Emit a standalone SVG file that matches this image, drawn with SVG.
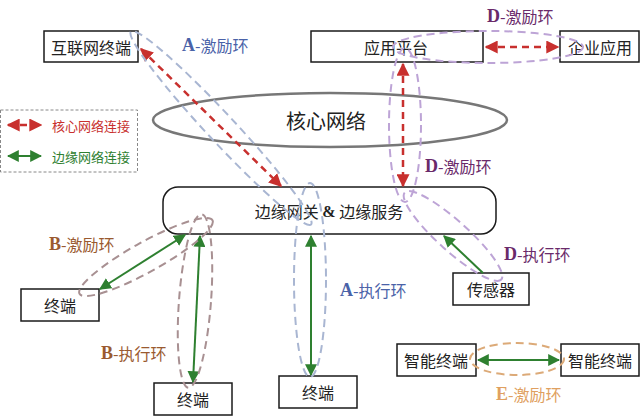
<svg xmlns="http://www.w3.org/2000/svg" width="641" height="416" viewBox="0 0 641 416">
<style>
.box{fill:#fff;stroke:#1a1a1a;stroke-width:1.5}
.t{font-family:"Noto Sans CJK SC","Noto Sans",sans-serif;fill:#222;text-anchor:middle;dominant-baseline:central}
.lab{font-family:"Noto Sans CJK SC",sans-serif;font-size:16px;dominant-baseline:central}
.L{font-family:"Liberation Serif",serif;font-weight:bold;font-size:18px}
.red{fill:none;stroke:#c8302e;stroke-width:2.5;stroke-dasharray:7 5}
.grn{fill:none;stroke:#2e8030;stroke-width:2}
.lpA{fill:none;stroke:#a9b6d2;stroke-width:2;stroke-dasharray:8 5}
.lpD{fill:none;stroke:#bda4d6;stroke-width:2;stroke-dasharray:8 5}
.lpB{fill:none;stroke:#a89092;stroke-width:2;stroke-dasharray:8 5}
.lpE{fill:none;stroke:#dcaa78;stroke-width:2;stroke-dasharray:8 5}
</style>
<defs>
<marker id="ar" viewBox="0 0 10 10" refX="9" refY="5" markerWidth="5.2" markerHeight="5.2" orient="auto-start-reverse" markerUnits="strokeWidth"><path d="M0,0 L10,5 L0,10 Z" fill="#c8302e"/></marker>
<marker id="ag" viewBox="0 0 10 10" refX="9" refY="5" markerWidth="6" markerHeight="6" orient="auto-start-reverse" markerUnits="strokeWidth"><path d="M0,0 L10,5 L0,10 Z" fill="#2e8030"/></marker>
</defs>
<rect width="641" height="416" fill="#fff"/>

<g id="legend">
<rect x="0.5" y="110" width="137" height="62" fill="none" stroke="#888" stroke-width="1" stroke-dasharray="3 2"/>
<line x1="8" y1="125" x2="41" y2="125" class="red" marker-start="url(#ar)" marker-end="url(#ar)"/>
<text x="52" y="125" class="lab" style="font-size:13px;fill:#c8302e">核心网络连接</text>
<line x1="8" y1="156" x2="41" y2="156" class="grn" stroke-width="2.5" marker-start="url(#ag)" marker-end="url(#ag)"/>
<text x="52" y="156" class="lab" style="font-size:13px;fill:#2e8030">边缘网络连接</text>
</g>

<g id="core">
<ellipse cx="330" cy="120" rx="177" ry="27" fill="none" stroke="#777" stroke-width="2.5"/>
<text x="326" y="120" class="t" style="font-size:20px">核心网络</text>
</g>

<g id="internet-terminal"><rect x="44" y="31" width="94" height="31" class="box"/><text x="91" y="47" class="t" style="font-size:16px">互联网终端</text></g>
<g id="app-platform"><rect x="311" y="31" width="172" height="31" class="box"/><text x="396" y="47" class="t" style="font-size:16px">应用平台</text></g>
<g id="enterprise-app"><rect x="560" y="31" width="79" height="31" class="box"/><text x="600" y="47" class="t" style="font-size:16px">企业应用</text></g>
<g id="edge"><rect x="163" y="187" width="333" height="47" rx="15" class="box"/><text x="329" y="211" class="t" style="font-size:16px">边缘网关&#160;<tspan style="font-family:'Liberation Serif',serif;font-weight:bold">&amp;</tspan>&#160;边缘服务</text></g>
<g id="terminal-left"><rect x="21" y="289" width="78" height="32" class="box"/><text x="60" y="305" class="t" style="font-size:16px">终端</text></g>
<g id="terminal-mid"><rect x="154" y="383" width="78" height="32" class="box"/><text x="193" y="399" class="t" style="font-size:16px">终端</text></g>
<g id="terminal-right"><rect x="279" y="376" width="78" height="32" class="box"/><text x="318" y="392" class="t" style="font-size:16px">终端</text></g>
<g id="sensor"><rect x="453" y="273" width="76" height="32" class="box"/><text x="491" y="289" class="t" style="font-size:16px">传感器</text></g>
<g id="smart-left"><rect x="397" y="344" width="79" height="32" class="box"/><text x="436" y="360" class="t" style="font-size:16px">智能终端</text></g>
<g id="smart-right"><rect x="561" y="344" width="78" height="32" class="box"/><text x="600" y="360" class="t" style="font-size:16px">智能终端</text></g>

<g id="connectors">
<line x1="141" y1="49" x2="281" y2="186" class="red" marker-start="url(#ar)" marker-end="url(#ar)"/>
<line x1="403" y1="64" x2="403" y2="186" class="red" marker-start="url(#ar)" marker-end="url(#ar)"/>
<line x1="486" y1="47" x2="558" y2="47" class="red" marker-start="url(#ar)" marker-end="url(#ar)"/>
<line x1="185" y1="235" x2="100" y2="289" class="grn" marker-start="url(#ag)" marker-end="url(#ag)"/>
<line x1="200" y1="236" x2="193" y2="382" class="grn" marker-start="url(#ag)" marker-end="url(#ag)"/>
<line x1="311" y1="236" x2="311" y2="375" class="grn" marker-start="url(#ag)" marker-end="url(#ag)"/>
<line x1="483" y1="273" x2="444" y2="236" class="grn" marker-end="url(#ag)"/>
<line x1="478" y1="360" x2="559" y2="360" class="grn" marker-start="url(#ag)" marker-end="url(#ag)"/>
</g>

<g id="loops">
<ellipse cx="221" cy="128" rx="132" ry="14" transform="rotate(47 221 128)" class="lpA"/>
<ellipse cx="310" cy="280" rx="16" ry="97" class="lpA"/>
<ellipse cx="488" cy="47" rx="95" ry="16" class="lpD"/>
<ellipse cx="405" cy="125" rx="16" ry="77" class="lpD"/>
<ellipse cx="453" cy="236" rx="65" ry="15" transform="rotate(42 453 236)" class="lpD"/>
<ellipse cx="146" cy="257" rx="76" ry="15" transform="rotate(-29 146 257)" class="lpB"/>
<ellipse cx="195" cy="301" rx="16" ry="87" transform="rotate(4.3 195 301)" class="lpB"/>
<ellipse cx="517" cy="359" rx="47" ry="16" class="lpE"/>
</g>

<g id="labels">
<text x="182" y="45" class="lab" fill="#4a62a8"><tspan class="L">A</tspan>-激励环</text>
<text x="487" y="16" class="lab" fill="#6a2a6a"><tspan class="L">D</tspan>-激励环</text>
<text x="425" y="166" class="lab" fill="#6a2a6a"><tspan class="L">D</tspan>-激励环</text>
<text x="504" y="254" class="lab" fill="#6a2a6a"><tspan class="L">D</tspan>-执行环</text>
<text x="340" y="290" class="lab" fill="#4a62a8"><tspan class="L">A</tspan>-执行环</text>
<text x="49" y="244" class="lab" fill="#9a5a30"><tspan class="L">B</tspan>-激励环</text>
<text x="101" y="353" class="lab" fill="#9a5a30"><tspan class="L">B</tspan>-执行环</text>
<text x="496" y="394" class="lab" fill="#e0a060"><tspan class="L">E</tspan>-激励环</text>
</g>
</svg>
